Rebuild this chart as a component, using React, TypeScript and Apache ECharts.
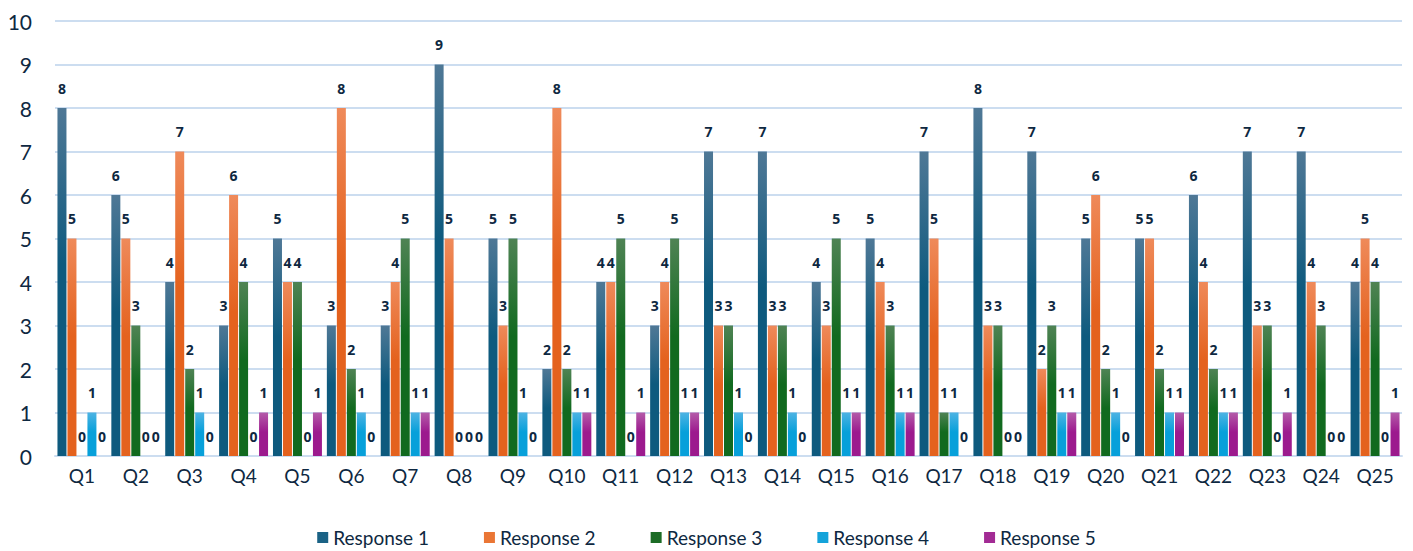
import React, { useEffect, useRef } from "react";
import * as echarts from "echarts";

const categories = ["Q1","Q2","Q3","Q4","Q5","Q6","Q7","Q8","Q9","Q10","Q11","Q12","Q13","Q14","Q15","Q16","Q17","Q18","Q19","Q20","Q21","Q22","Q23","Q24","Q25"];
const response1 = [8,6,4,3,5,3,3,9,5,2,4,3,7,7,4,5,7,8,7,5,5,6,7,7,4];
const response2 = [5,5,7,6,4,8,4,5,3,8,4,4,3,3,3,4,5,3,2,6,5,4,3,4,5];
const response3 = [0,3,2,4,4,2,5,0,5,2,5,5,3,3,5,3,1,3,3,2,2,2,3,3,4];
const response4 = [1,0,1,0,0,1,1,0,1,1,0,1,1,1,1,1,1,0,1,1,1,1,0,0,0];
const response5 = [0,0,0,1,1,0,1,0,0,1,1,1,0,0,1,1,0,0,1,0,1,1,1,0,1];
const seriesNames = ["Response 1","Response 2","Response 3","Response 4","Response 5"];
const yTicks = [0,1,2,3,4,5,6,7,8,9,10];

const palette = [
  { top: "#4F7896", bottom: "#0E5A7E", legend: "#1A6285" },
  { top: "#EF8A5A", bottom: "#E4621E", legend: "#EA7635" },
  { top: "#4F8354", bottom: "#116A1F", legend: "#1C6C26" },
  { top: "#4DB3E3", bottom: "#07A0DA", legend: "#14A3DA" },
  { top: "#B45BA9", bottom: "#9C1A8E", legend: "#A22B94" },
];

export default function App() {
  const ref = useRef<HTMLDivElement>(null);
  useEffect(() => {
    if (!ref.current) return;
    const chart = echarts.init(ref.current, undefined, { renderer: "svg" });
    const data = [response1, response2, response3, response4, response5];
    const textColor = "#0E2841";
    const font = "Lato, 'Noto Sans', sans-serif";
    chart.setOption({
      animation: false,
      textStyle: { fontFamily: font },
      grid: { left: 55, right: 11, top: 21, bottom: 95, containLabel: false },
      legend: {
        bottom: -1,
        left: "center",
        itemWidth: 11,
        itemHeight: 11,
        itemGap: 55,
        icon: "rect",
        textStyle: { fontSize: 19, color: textColor, fontFamily: font },
        data: seriesNames.map((n, i) => ({ name: n, itemStyle: { color: palette[i].legend } })),
      },
      xAxis: {
        type: "category",
        data: categories,
        axisLine: { show: true, lineStyle: { color: "#CCDDF0", width: 2 } },
        axisTick: { show: false },
        axisLabel: { fontSize: 19, color: textColor, margin: 10 },
      },
      yAxis: {
        type: "value",
        min: yTicks[0],
        max: yTicks[yTicks.length - 1],
        interval: 1,
        axisLine: { show: false },
        axisTick: { show: false },
        axisLabel: { fontSize: 21, color: textColor, margin: 23 },
        splitLine: { lineStyle: { color: "#CCDDF0", width: 2 } },
      },
      series: data.map((d, i) => ({
        name: seriesNames[i],
        type: "bar",
        data: d,
        barWidth: 9,
        barGap: "11%",
        itemStyle: {
          color: new echarts.graphic.LinearGradient(0, 0, 0, 1, [
            { offset: 0, color: palette[i].top },
            { offset: 0.45, color: palette[i].bottom },
            { offset: 1, color: palette[i].bottom },
          ]),
        },
        label: {
          show: true,
          position: "top",
          distance: 13,
          fontSize: 14,
          fontWeight: "bold",
          fontFamily: "'Open Sans', 'Noto Sans', sans-serif",
          color: textColor,
        },
      })),
    });
    return () => chart.dispose();
  }, []);
  return (
    <div
      ref={ref}
      style={{ position: "absolute", left: 0, top: 0, width: 1413, height: 551, background: "#fff" }}
    />
  );
}
